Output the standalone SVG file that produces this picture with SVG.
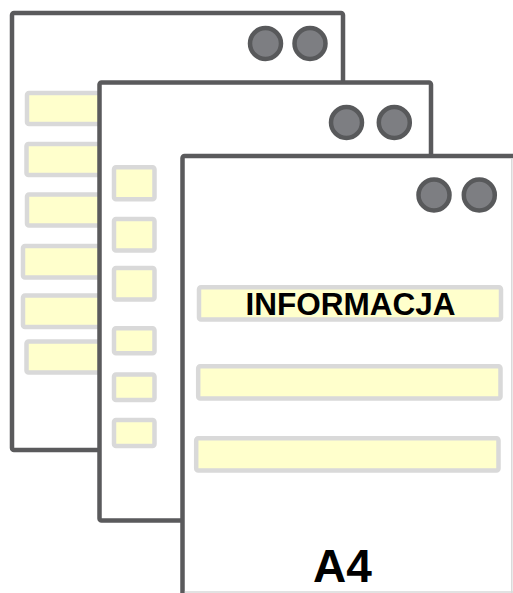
<svg xmlns="http://www.w3.org/2000/svg" width="513" height="593" viewBox="0 0 513 593">
<style>
.page{fill:#ffffff;stroke:#5a5a5c;stroke-width:4.5;stroke-linejoin:round}
.bar{fill:#ffffcc;stroke:#d9d9d9;stroke-width:4.5;stroke-linejoin:round}
.dot{fill:#7d7e82;stroke:#58595b;stroke-width:4.5}
.edge{stroke:#d9d9d9;stroke-width:1.5;fill:none}
.lbl{font-family:"Liberation Sans",Arial,sans-serif;font-weight:bold;fill:#000000;text-anchor:middle}
</style>
<rect width="513" height="593" fill="#ffffff"/>
<g id="page1">
<rect class="page" x="12" y="13" width="331" height="437" rx="2"/>
<circle class="dot" cx="265.5" cy="43.5" r="15.5"/>
<circle class="dot" cx="310" cy="43.5" r="15.5"/>
<rect class="bar" x="27" y="93" width="100" height="31" rx="2"/>
<rect class="bar" x="26.5" y="144" width="100" height="31" rx="2"/>
<rect class="bar" x="27" y="194.5" width="100" height="31" rx="2"/>
<rect class="bar" x="23" y="246" width="100" height="31.5" rx="2"/>
<rect class="bar" x="23" y="295.5" width="100" height="31.5" rx="2"/>
<rect class="bar" x="26.5" y="341.5" width="100" height="31" rx="2"/>
</g>
<g id="page2">
<rect class="page" x="99.5" y="82.5" width="331.5" height="438" rx="2"/>
<circle class="dot" cx="346.5" cy="122.5" r="15.5"/>
<circle class="dot" cx="394.3" cy="122.5" r="15.5"/>
<rect class="bar" x="114" y="167.2" width="40.5" height="32" rx="2"/>
<rect class="bar" x="114" y="219" width="40.5" height="31.5" rx="2"/>
<rect class="bar" x="114" y="268" width="40.5" height="31.5" rx="2"/>
<rect class="bar" x="114" y="328.2" width="40.5" height="25" rx="2"/>
<rect class="bar" x="114" y="374.5" width="40.5" height="25.5" rx="2"/>
<rect class="bar" x="114" y="420" width="40.5" height="26" rx="2"/>
</g>
<g id="page3">
<rect class="page" x="182.5" y="156" width="360" height="460" rx="2"/>
<line class="edge" x1="511.8" y1="158.5" x2="511.8" y2="593"/>
<line class="edge" x1="184.8" y1="592" x2="513" y2="592"/>
<circle class="dot" cx="434" cy="195" r="15.5"/>
<circle class="dot" cx="479.3" cy="195" r="15.5"/>
<rect class="bar" x="199" y="287.2" width="302" height="32.3" rx="2"/>
<rect class="bar" x="198.2" y="366.2" width="302.3" height="32.3" rx="2"/>
<rect class="bar" x="196.2" y="438.2" width="302.3" height="32.3" rx="2"/>
<text class="lbl" x="350.5" y="315" font-size="31.5">INFORMACJA</text>
<text class="lbl" x="342.5" y="582.3" font-size="46">A4</text>
</g>
<g id="connectors"/>
</svg>
